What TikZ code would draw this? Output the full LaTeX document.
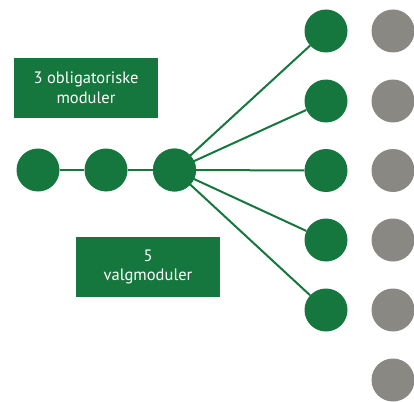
\documentclass[tikz,border=0pt]{standalone}
\usepackage{fontspec}
\setmainfont{PT Sans}
\definecolor{mgreen}{RGB}{21,119,61}
\definecolor{mgray}{RGB}{138,136,131}
\begin{document}
\begin{tikzpicture}[x=1pt,y=-1pt,
  gdot/.style={circle,fill=mgreen,minimum size=43pt,inner sep=0pt},
  ydot/.style={circle,fill=mgray,minimum size=43pt,inner sep=0pt},
  lbl/.style={fill=mgreen,text=white,align=center,inner sep=0pt,font=\fontsize{16.5}{19.5}\selectfont},
  conn/.style={draw=mgreen,line width=2pt}]
\useasboundingbox (0,0) rectangle (414,401);
\node[gdot] (l1) at (38,170) {};
\node[gdot] (l2) at (106,170) {};
\node[gdot] (l3) at (174.5,170) {};
\foreach \i/\y in {1/31,2/101,3/170.5,4/240,5/310}{
  \node[gdot] (r\i) at (326,\y) {};
  \node[ydot] (g\i) at (393,\y) {};
}
\node[ydot] (g6) at (393,380) {};
\node[lbl,minimum width=144pt,minimum height=60pt] (b1) at (86,88) {3 obligatoriske\\moduler};
\node[lbl,minimum width=144pt,minimum height=60pt] (b2) at (148,267) {5\\valgmoduler};
\draw[conn] (l1) -- (l2);
\draw[conn] (l2) -- (l3);
\foreach \i in {1,...,5}{ \draw[conn] (l3.center) -- (r\i); }
\node[gdot] at (l3) {};
\end{tikzpicture}
\end{document}
